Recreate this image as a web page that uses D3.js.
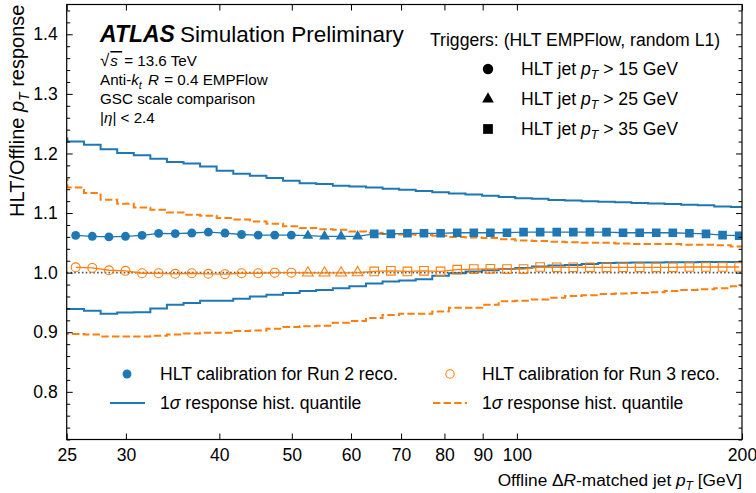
<!DOCTYPE html>
<html><head><meta charset="utf-8">
<script src="https://cdn.jsdelivr.net/npm/d3@7"></script>
<style>
body{margin:0;background:#fff}
svg{display:block}
text{font-family:"Liberation Sans",Arial,Helvetica,sans-serif;fill:#000}
</style>
</head><body>
<svg id="chart" width="756" height="493"></svg>
<script>
// ---------------- data ----------------
const ptCenters = [25.70, 27.05, 28.47, 29.96, 31.53, 33.18, 34.92, 36.75, 38.67, 40.70,
  42.83, 45.08, 47.44, 49.93, 52.54, 55.30, 58.19, 61.24, 64.45, 67.83,
  71.38, 75.12, 79.06, 83.21, 87.57, 92.16, 96.99, 102.07, 107.42, 113.05,
  118.97, 125.21, 131.77, 138.67, 145.94, 153.58, 161.63, 170.10, 179.01, 188.39, 198.26];

// histogram bin just below 25 GeV (only its right edge is visible)
const underflowPt = 24.42;

const triggerOfPoint = ["15","15","15","15","15","15","15","15","15","15","15","15","15","15",
  "25","25","25","25",
  "35","35","35","35","35","35","35","35","35","35","35","35","35","35","35","35","35","35","35","35","35","35","35"];

const run2Response = [1.0625, 1.061, 1.060, 1.061, 1.0625, 1.066, 1.0655, 1.0665, 1.068, 1.0665,
  1.064, 1.063, 1.063, 1.063, 1.062, 1.061, 1.061, 1.061,
  1.065, 1.065, 1.066, 1.066, 1.066, 1.067, 1.067, 1.067, 1.067, 1.068, 1.068, 1.068,
  1.068, 1.068, 1.068, 1.067, 1.067, 1.067, 1.067, 1.066, 1.065, 1.063, 1.062];

const run3Response = [1.009, 1.008, 1.004, 1.003, 0.999, 0.999, 0.998, 0.999, 0.998, 0.9975,
  0.999, 0.999, 1.000, 1.000, 0.9995, 0.9995, 0.9995, 1.000,
  1.002, 1.003, 1.002, 1.003, 1.002, 1.005, 1.006, 1.0065, 1.006, 1.006, 1.0095, 1.009,
  1.009, 1.009, 1.009, 1.009, 1.009, 1.009, 1.009, 1.0095, 1.0095, 1.0095, 1.0095];

// histogram quantiles: first value is the underflow bin, then one per ptCenter
const run2Upper = [1.225, 1.220, 1.2145, 1.207, 1.2006, 1.197, 1.191, 1.1855, 1.183, 1.178, 1.171,
  1.166, 1.1626, 1.1587, 1.1542, 1.150, 1.1487, 1.146, 1.1447, 1.143, 1.141, 1.139,
  1.137, 1.135, 1.133, 1.131, 1.129, 1.127, 1.125, 1.124, 1.122, 1.121,
  1.120, 1.119, 1.118, 1.117, 1.116, 1.115, 1.114, 1.113, 1.111, 1.110];

const run2Lower = [0.939, 0.939, 0.936, 0.931, 0.933, 0.9335, 0.940, 0.946, 0.949, 0.953, 0.953,
  0.956, 0.960, 0.963, 0.966, 0.969, 0.971, 0.974, 0.977, 0.982, 0.985, 0.987, 0.989,
  0.995, 0.999, 1.002, 1.004, 1.006, 1.008, 1.0105, 1.012, 1.013, 1.0145, 1.016, 1.0165,
  1.017, 1.017, 1.0175, 1.0175, 1.018, 1.018, 1.018];

const run3Upper = [1.156, 1.143, 1.1336, 1.1224, 1.1157, 1.1095, 1.1056, 1.1011, 1.0972, 1.0956, 1.0917,
  1.089, 1.086, 1.082, 1.078, 1.075, 1.073, 1.072, 1.069, 1.067, 1.065, 1.064,
  1.063, 1.062, 1.060, 1.059, 1.058, 1.056, 1.054, 1.053, 1.052, 1.051,
  1.050, 1.050, 1.049, 1.048, 1.048, 1.048, 1.047, 1.047, 1.046, 1.044];

const run3Lower = [0.897, 0.897, 0.896, 0.893, 0.893, 0.893, 0.894, 0.896, 0.898, 0.899, 0.899, 0.902,
  0.903, 0.906, 0.909, 0.910, 0.911, 0.916, 0.919, 0.924, 0.929,
  0.931, 0.931, 0.935, 0.941, 0.941, 0.946, 0.952, 0.953, 0.955, 0.958, 0.961,
  0.962, 0.964, 0.965, 0.966, 0.967, 0.969, 0.971, 0.972, 0.974, 0.977];

const xTickValues = [25, 30, 40, 50, 60, 70, 80, 90, 100, 200];
const yMajorTicks = [0.8, 0.9, 1.0, 1.1, 1.2, 1.3, 1.4];
const yMinorTicks = [0.72,0.74,0.76,0.78,0.82,0.84,0.86,0.88,0.92,0.94,0.96,0.98,1.02,1.04,1.06,1.08,
  1.12,1.14,1.16,1.18,1.22,1.24,1.26,1.28,1.32,1.34,1.36,1.38,1.42,1.44];
const triggerLabels = ["15","25","35"];

// ---------------- setup ----------------
const BLUE = "#1f77b4", ORANGE = "#ff7f0e";
const FS = 17.6;
const svg = d3.select("#chart");
const L = 66.7, R = 742, T = 4.5, B = 439.5;
const x = d3.scaleLog().domain([25, 200]).range([L, R]);
const y = d3.scaleLinear().domain([0.72, 1.45]).range([B, T]);

svg.append("defs").append("clipPath").attr("id", "plotclip")
  .append("rect").attr("x", L).attr("y", T).attr("width", R - L).attr("height", B - T);

const plot = svg.append("g").attr("clip-path", "url(#plotclip)");

// histogram step lines
const histCenters = [underflowPt].concat(ptCenters);
const px = histCenters.map(d => x(d));
const edges = px.map((p, i) => i === 0 ? p - (px[1] - px[0]) / 2 : (px[i - 1] + p) / 2);
edges.push(px[px.length - 1] + (px[px.length - 1] - px[px.length - 2]) / 2);
function stepPoints(vals) {
  const pts = vals.map((v, i) => [edges[i], y(v)]);
  pts.push([edges[vals.length], y(vals[vals.length - 1])]);
  return pts;
}
const stepLine = d3.line().curve(d3.curveStepAfter);

[[run2Upper, BLUE, null], [run2Lower, BLUE, null], [run3Upper, ORANGE, "7.4,3.2"], [run3Lower, ORANGE, "7.4,3.2"]]
  .forEach(([vals, col, dash]) => {
    plot.append("path").attr("d", stepLine(stepPoints(vals)))
      .attr("fill", "none").attr("stroke", col).attr("stroke-width", 2)
      .attr("stroke-dasharray", dash);
  });

// unity reference line
plot.append("line").attr("x1", L).attr("x2", R).attr("y1", y(1.0)).attr("y2", y(1.0))
  .attr("stroke", "#555").attr("stroke-width", 1.6).attr("stroke-dasharray", "1.6,2.2");

// marker connecting lines
const ptLine = d3.line().x((d, i) => x(ptCenters[i])).y(d => y(d));
plot.append("path").attr("d", ptLine(run2Response)).attr("fill", "none").attr("stroke", BLUE).attr("stroke-width", 1.3);
plot.append("path").attr("d", ptLine(run3Response)).attr("fill", "none").attr("stroke", ORANGE).attr("stroke-width", 1.3);

const symType = {"15": d3.symbolCircle, "25": d3.symbolTriangle, "35": d3.symbolSquare};
const symSize = {"15": 62, "25": 50, "35": 74};
function drawMarkers(vals, filled, col) {
  plot.selectAll(null).data(vals).join("path")
    .attr("transform", (d, i) => `translate(${x(ptCenters[i])},${y(d)})`)
    .attr("d", (d, i) => d3.symbol().type(symType[triggerOfPoint[i]]).size(symSize[triggerOfPoint[i]])())
    .attr("fill", filled ? col : "none")
    .attr("stroke", col).attr("stroke-width", filled ? 0 : 1.1);
}
drawMarkers(run3Response, false, ORANGE);
drawMarkers(run2Response, true, BLUE);

// ---------------- axes ----------------
function styleAxis(g) {
  g.select(".domain").remove();
  g.selectAll("line").attr("stroke", "#000").attr("stroke-width", 1);
  g.selectAll("text").attr("font-size", FS).attr("font-family", '"Liberation Sans",Arial,sans-serif').attr("fill", "#000");
}
svg.append("g").attr("transform", `translate(${L},0)`)
  .call(d3.axisLeft(y).tickValues(yMajorTicks).tickSize(-6).tickPadding(9).tickFormat(d3.format(".1f"))).call(styleAxis);
svg.append("g").attr("transform", `translate(${L},0)`)
  .call(d3.axisLeft(y).tickValues(yMinorTicks).tickSize(-3.5).tickFormat("")).call(styleAxis);
svg.append("g").attr("transform", `translate(${R},0)`)
  .call(d3.axisRight(y).tickValues(yMajorTicks).tickSize(-6).tickFormat("")).call(styleAxis);
svg.append("g").attr("transform", `translate(${R},0)`)
  .call(d3.axisRight(y).tickValues(yMinorTicks).tickSize(-3.5).tickFormat("")).call(styleAxis);
svg.append("g").attr("transform", `translate(0,${B})`)
  .call(d3.axisBottom(x).tickValues(xTickValues).tickSize(-6).tickPadding(9).tickFormat(d3.format("d"))).call(styleAxis);
svg.append("g").attr("transform", `translate(0,${T})`)
  .call(d3.axisTop(x).tickValues(xTickValues).tickSize(-6).tickFormat("")).call(styleAxis);

svg.append("rect").attr("x", L).attr("y", T).attr("width", R - L).attr("height", B - T)
  .attr("fill", "none").attr("stroke", "#000").attr("stroke-width", 1.2);

// ---------------- rich text helper ----------------
function rich(parent, xx, yy, parts, fs, anchor, rotate) {
  const t = parent.append("text").attr("x", xx).attr("y", yy).attr("font-size", fs)
    .attr("text-anchor", anchor || "start");
  if (rotate) t.attr("transform", `rotate(${rotate},${xx},${yy})`);
  let shift = 0;
  parts.forEach(p => {
    const ts = t.append("tspan").text(p.t);
    if (p.it) ts.attr("font-style", "italic");
    if (p.b) ts.attr("font-weight", "bold");
    if (p.fs) ts.attr("font-size", p.fs);
    if (p.dx) ts.attr("dx", p.dx);
    if (p.ov) ts.attr("text-decoration", "overline").style("text-decoration", "overline");
    if (p.sub) {
      ts.attr("font-size", fs * 0.7).attr("dy", fs * 0.25 - shift); shift = fs * 0.25;
    } else if (shift) { ts.attr("dy", -shift); shift = 0; }
  });
  return t;
}

// axis titles
rich(svg, R, 486, [{t: "Offline Δ"}, {t: "R", it: true}, {t: "-matched jet "}, {t: "p", it: true}, {t: "T", it: true, sub: true}, {t: " [GeV]"}], 17.3, "end");
rich(svg, 24, T, [{t: "HLT/Offline "}, {t: "p", it: true}, {t: "T", it: true, sub: true}, {t: " response"}], 20, "end", -90);

// ATLAS label
svg.append("text").attr("x", 100).attr("y", 42).attr("font-size", 23)
  .attr("font-weight", "bold").attr("font-style", "italic").text("ATLAS");
svg.append("text").attr("x", 180).attr("y", 42).attr("font-size", 22.5).text("Simulation Preliminary");

const IFS = 15.2;
rich(svg, 100, 66, [{t: "√", fs: 17}, {t: "s ", it: true, ov: true, dx: 1}, {t: "= 13.6 TeV", dx: 2}], IFS);
rich(svg, 100, 85, [{t: "Anti-"}, {t: "k", it: true}, {t: "t", it: true, sub: true}, {t: " "}, {t: "R", it: true, dx: 2}, {t: " = 0.4 EMPFlow", dx: 1}], IFS);
rich(svg, 100, 104, [{t: "GSC scale comparison"}], IFS);
rich(svg, 100, 123, [{t: "|"}, {t: "η", it: true}, {t: "| < 2.4"}], IFS);

// trigger legend
svg.append("text").attr("x", 430).attr("y", 46).attr("font-size", FS).text("Triggers: (HLT EMPFlow, random L1)");
const legY = [69, 99, 129];
const legSize = {"15": 85, "25": 60, "35": 95};
triggerLabels.forEach((tr, i) => {
  svg.append("path").attr("transform", `translate(488,${legY[i]})`)
    .attr("d", d3.symbol().type(symType[tr]).size(legSize[tr])()).attr("fill", "#000");
  rich(svg, 521, legY[i] + 6, [{t: "HLT jet "}, {t: "p", it: true}, {t: "T", it: true, sub: true}, {t: " > " + tr + " GeV"}], FS);
});

// bottom legend
svg.append("path").attr("transform", "translate(127,374)").attr("d", d3.symbol().type(d3.symbolCircle).size(62)()).attr("fill", BLUE);
svg.append("text").attr("x", 160).attr("y", 380).attr("font-size", FS).text("HLT calibration for Run 2 reco.");
svg.append("path").attr("transform", "translate(450,374)").attr("d", d3.symbol().type(d3.symbolCircle).size(55)())
  .attr("fill", "none").attr("stroke", ORANGE).attr("stroke-width", 1.1);
svg.append("text").attr("x", 482).attr("y", 380).attr("font-size", FS).text("HLT calibration for Run 3 reco.");
svg.append("line").attr("x1", 110).attr("x2", 145).attr("y1", 403).attr("y2", 403).attr("stroke", BLUE).attr("stroke-width", 2);
rich(svg, 160, 409, [{t: "1"}, {t: "σ", it: true}, {t: " response hist. quantile"}], FS);
svg.append("line").attr("x1", 433).attr("x2", 467).attr("y1", 403).attr("y2", 403).attr("stroke", ORANGE).attr("stroke-width", 2).attr("stroke-dasharray", "7.4,3.2");
rich(svg, 482, 409, [{t: "1"}, {t: "σ", it: true}, {t: " response hist. quantile"}], FS);
</script>
</body></html>
